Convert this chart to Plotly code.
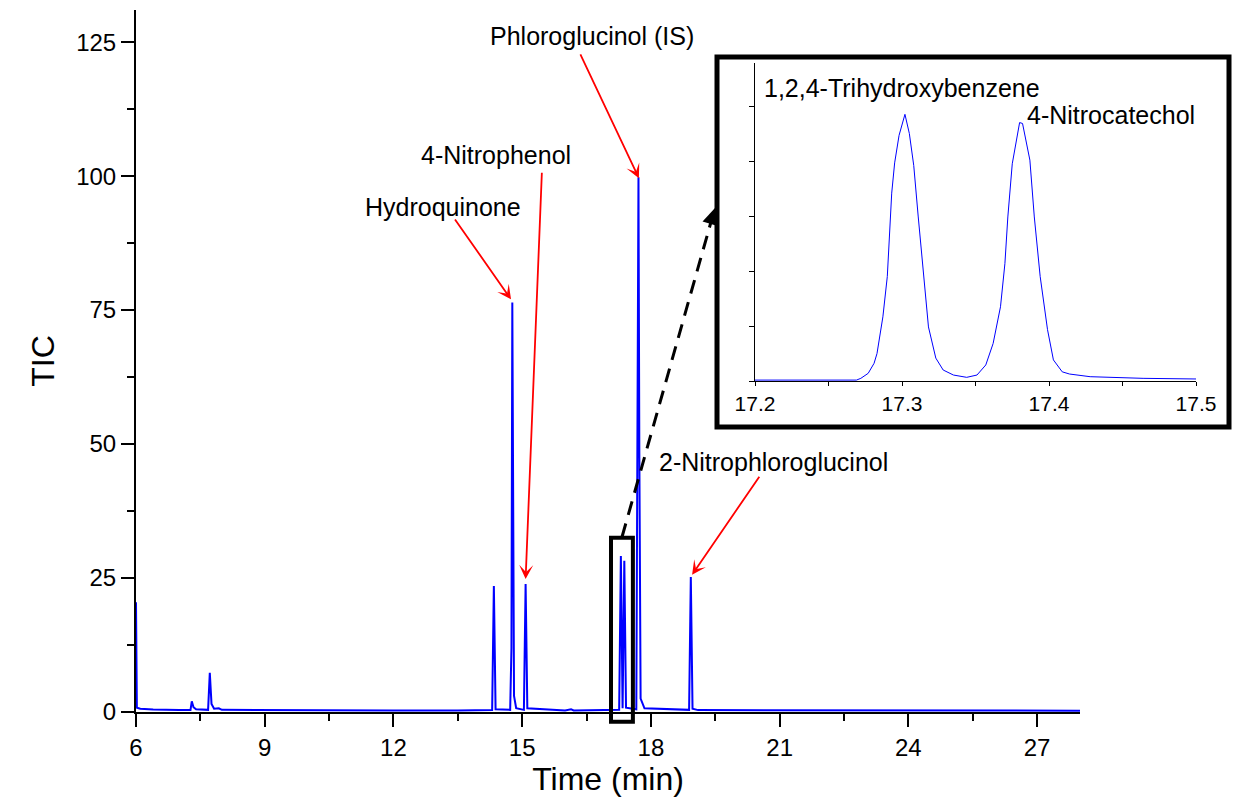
import plotly.graph_objects as go

# ---------------- data ----------------
# main chromatogram (Time in min, TIC)
main_time = [6.00, 6.02, 6.10, 6.40, 7.00, 7.27, 7.30, 7.34, 7.40, 7.68, 7.72, 7.76, 7.82,
             7.93, 8.00, 9.00, 10.50, 12.00, 13.50, 14.30, 14.34, 14.38, 14.72, 14.75, 14.77,
             14.79, 14.81, 14.86, 15.04, 15.08, 15.12, 16.00, 16.14, 16.20, 17.26, 17.30,
             17.34, 17.38, 17.42, 17.66, 17.69, 17.71, 17.73, 17.76, 17.85, 18.89, 18.93,
             18.97, 19.10, 21.00, 24.00, 28.00]
main_tic = [20.5, 0.8, 0.6, 0.45, 0.35, 0.35, 2.0, 0.9, 0.5, 0.4, 7.3, 1.5, 0.6,
            0.7, 0.4, 0.35, 0.3, 0.3, 0.3, 0.35, 23.5, 0.5, 0.4, 12.0, 76.4,
            45.0, 3.0, 0.7, 0.4, 23.9, 0.7, 0.3, 0.5, 0.3, 0.4, 29.1,
            0.7, 28.2, 0.8, 0.5, 49.0, 99.8, 49.0, 2.5, 0.7, 0.4, 25.2,
            0.6, 0.35, 0.3, 0.3, 0.25]

# inset (zoom 17.2 - 17.5 min)
inset_time = [17.200, 17.269, 17.272, 17.277, 17.281, 17.283, 17.287, 17.290, 17.293, 17.295,
              17.298, 17.302, 17.305, 17.308, 17.311, 17.315, 17.318, 17.323, 17.328, 17.335,
              17.344, 17.351, 17.357, 17.362, 17.367, 17.370, 17.372, 17.375, 17.378, 17.380,
              17.382, 17.385, 17.387, 17.390, 17.394, 17.399, 17.403, 17.409, 17.414, 17.428,
              17.448, 17.464, 17.500]
inset_tic = [0.10, 0.10, 0.29, 0.84, 1.93, 3.0, 7.0, 11.4, 20.5, 23.8,
             26.8, 29.1, 27.0, 23.5, 18.0, 11.5, 5.9, 2.5, 1.2, 0.65,
             0.40, 0.65, 1.75, 4.1, 8.1, 12.8, 17.9, 23.7, 26.7, 28.2,
             28.1, 25.6, 24.1, 17.9, 11.4, 5.6, 2.3, 1.0, 0.76, 0.47,
             0.36, 0.29, 0.22]

# labelled peaks: (label, text position, arrow tail, arrow head)
peak_labels = ["Hydroquinone", "4-Nitrophenol", "Phloroglucinol (IS)", "2-Nitrophloroglucinol"]
label_x = [13.15, 14.39, 16.62, 20.85]
label_y = [94.2, 103.9, 126.2, 46.7]
tail_x = [13.41, 15.46, 16.34, 20.55]
tail_y = [92.2, 100.9, 123.0, 44.2]
head_x = [14.74, 15.08, 17.72, 18.96]
head_y = [77.0, 24.8, 99.6, 25.6]

inset_labels = ["1,2,4-Trihydroxybenzene", "4-Nitrocatechol"]
inset_label_x = [17.205, 17.384]
inset_label_y = [32.0, 29.0]

# zoom window marked in main chart
zoom_t = [17.07, 17.58]
zoom_y = [-1.8, 32.5]

# ---------------- layout geometry ----------------
W, H = 1237, 802
ML, MR, MT, MB = 136, 3, 10, 90
PW, PH = W - ML - MR, H - MT - MB
X_RANGE = [6, 28]
Y_RANGE = [0, 131]
main_xdom = [0, 944 / PW]

def px_x(px):
    return (px - ML) / PW

def px_y(py):
    return (H - MB - py) / PH

def data_to_paper(t, v):
    fx = (t - X_RANGE[0]) / (X_RANGE[1] - X_RANGE[0])
    fy = (v - Y_RANGE[0]) / (Y_RANGE[1] - Y_RANGE[0])
    return main_xdom[0] + fx * (main_xdom[1] - main_xdom[0]), fy

FONT = "Arial, Liberation Sans, sans-serif"

fig = go.Figure()
fig.add_trace(go.Scatter(x=main_time, y=main_tic, mode="lines",
                         line=dict(color="#0000FF", width=2), xaxis="x", yaxis="y",
                         showlegend=False, hoverinfo="x+y"))
fig.add_trace(go.Scatter(x=inset_time, y=inset_tic, mode="lines",
                         line=dict(color="#0000FF", width=1), xaxis="x2", yaxis="y2",
                         showlegend=False, hoverinfo="x+y"))

axis_common = dict(showgrid=False, zeroline=False, showline=True, linecolor="black",
                   ticks="outside", tickcolor="black", automargin=False)

fig.update_layout(
    width=W, height=H,
    margin=dict(l=ML, r=MR, t=MT, b=MB),
    paper_bgcolor="white", plot_bgcolor="white",
    font=dict(family=FONT, color="black"),
    xaxis=dict(axis_common, domain=main_xdom, range=X_RANGE, tick0=6, dtick=3,
               linewidth=2, tickwidth=2, ticklen=13, layer="below traces",
               minor=dict(dtick=1.5, ticklen=7, tickwidth=2, ticks="outside", tickcolor="black"),
               tickfont=dict(size=24),
               title=dict(text="Time (min)", font=dict(size=32), standoff=2)),
    yaxis=dict(axis_common, domain=[0, 1], range=Y_RANGE, tick0=0, dtick=25,
               linewidth=2, tickwidth=2, ticklen=13, layer="below traces",
               minor=dict(dtick=12.5, ticklen=7, tickwidth=2, ticks="outside", tickcolor="black"),
               tickfont=dict(size=24),
               title=dict(text="TIC", font=dict(size=32), standoff=12)),
    xaxis2=dict(axis_common, domain=[px_x(755), px_x(1196)], range=[17.2, 17.5], anchor="y2",
                tick0=17.2, dtick=0.1, linewidth=1, tickwidth=1, ticklen=4,
                minor=dict(dtick=0.05, ticklen=4, tickwidth=1, ticks="outside", tickcolor="black"),
                tickfont=dict(size=21), tickformat=".1f"),
    yaxis2=dict(axis_common, domain=[px_y(381), px_y(63)], range=[0, 34.7], anchor="x2",
                tick0=0, dtick=6, linewidth=1, tickwidth=1, ticklen=5, showticklabels=False),
)

shapes = []
# zoom window rectangle on main chart
zx0, zy0 = data_to_paper(zoom_t[0], zoom_y[0])
zx1, zy1 = data_to_paper(zoom_t[1], zoom_y[1])
shapes.append(dict(type="rect", xref="paper", yref="paper", x0=zx0, y0=zy0, x1=zx1, y1=zy1,
                   line=dict(color="black", width=4), fillcolor="rgba(0,0,0,0)"))
# inset frame
shapes.append(dict(type="rect", xref="paper", yref="paper",
                   x0=px_x(717), y0=px_y(427), x1=px_x(1229), y1=px_y(57),
                   line=dict(color="black", width=5), fillcolor="rgba(0,0,0,0)"))
# dashed connector
shapes.append(dict(type="line", xref="paper", yref="paper",
                   x0=px_x(622), y0=px_y(537), x1=px_x(709), y1=px_y(229),
                   line=dict(color="black", width=3, dash="14px,9px")))
fig.update_layout(shapes=shapes)

annotations = []
for lab, lx, ly in zip(peak_labels, label_x, label_y):
    annotations.append(dict(x=lx, y=ly, xref="x", yref="y", text=lab, showarrow=False,
                            font=dict(size=25, family=FONT, color="black"),
                            xanchor="center", yanchor="middle"))
for tx, ty, hx, hy in zip(tail_x, tail_y, head_x, head_y):
    annotations.append(dict(x=hx, y=hy, ax=tx, ay=ty, xref="x", yref="y", axref="x", ayref="y",
                            text="", showarrow=True, arrowhead=3, arrowsize=1.3,
                            arrowwidth=1.8, arrowcolor="#FF0000", standoff=0, startstandoff=0))
for lab, lx, ly in zip(inset_labels, inset_label_x, inset_label_y):
    annotations.append(dict(x=lx, y=ly, xref="x2", yref="y2", text=lab, showarrow=False,
                            font=dict(size=25, family=FONT, color="black"),
                            xanchor="left", yanchor="middle"))
# black arrow head of the dashed connector
annotations.append(dict(x=px_x(715), y=px_y(208), xref="paper", yref="paper",
                        ax=-6, ay=21, text="", showarrow=True, arrowhead=2,
                        arrowsize=1.1, arrowwidth=3, arrowcolor="black", standoff=0))
fig.update_layout(annotations=annotations)

fig.write_html("out.html", config={"displayModeBar": False},
               post_script="document.body.style.margin='0';")
